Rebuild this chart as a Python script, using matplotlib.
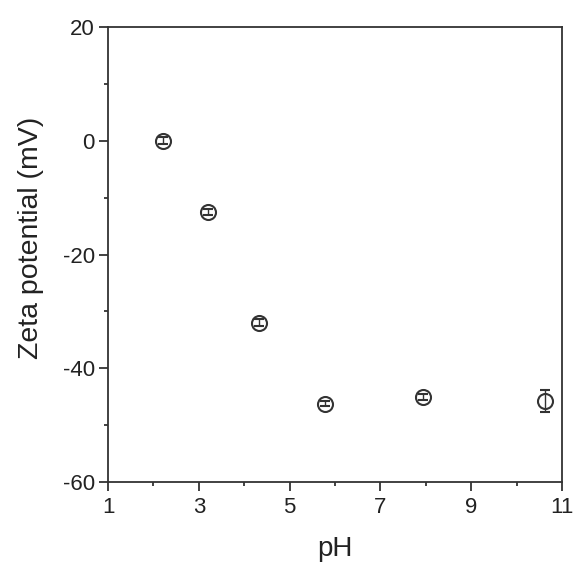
import matplotlib
matplotlib.use("Agg")
import matplotlib.pyplot as plt
from matplotlib.ticker import MultipleLocator, FixedLocator

plt.rcParams['font.family'] = ['Liberation Sans', 'DejaVu Sans']
plt.rcParams['axes.unicode_minus'] = False

ph = [2.2, 3.2, 4.33, 5.78, 7.93, 10.63]
zeta = [0.0, -12.5, -32.0, -46.2, -45.0, -45.8]
zeta_err = [0.6, 0.6, 0.6, 0.5, 0.5, 1.9]

x_ticks = [1, 3, 5, 7, 9, 11]
y_ticks = [-60, -40, -20, 0, 20]

ink = '#333333'
text_ink = '#222222'

fig = plt.figure(figsize=(5.73, 5.67), dpi=100)
ax = fig.add_axes([0.1885, 0.150, 0.7925, 0.802])

ax.errorbar(ph, zeta, yerr=zeta_err, fmt='o', ms=10.8, mfc='none', mec=ink,
            mew=1.5, ecolor=ink, elinewidth=1.0, capsize=3.5, capthick=1.0)

ax.set_xlim(1, 11)
ax.set_ylim(-60, 20)
ax.xaxis.set_major_locator(FixedLocator(x_ticks))
ax.xaxis.set_minor_locator(MultipleLocator(1))
ax.yaxis.set_major_locator(FixedLocator(y_ticks))
ax.yaxis.set_minor_locator(MultipleLocator(10))

for s in ax.spines.values():
    s.set_color(ink)
    s.set_linewidth(1.3)
ax.tick_params(which='both', direction='out', colors=ink, labelcolor=text_ink,
               top=False, right=False)
ax.tick_params(which='major', length=6.5, width=1.3, labelsize=16)
ax.tick_params(axis='x', which='major', pad=4)
ax.tick_params(axis='y', which='major', pad=3)
ax.tick_params(which='minor', length=3, width=1.3)

ax.set_xlabel('pH', fontsize=20, color=text_ink, labelpad=13)
ax.set_ylabel('Zeta potential (mV)', fontsize=20.5, color=text_ink)
ax.yaxis.set_label_coords(-0.141, 0.536)

fig.savefig('out.png', dpi=100)
